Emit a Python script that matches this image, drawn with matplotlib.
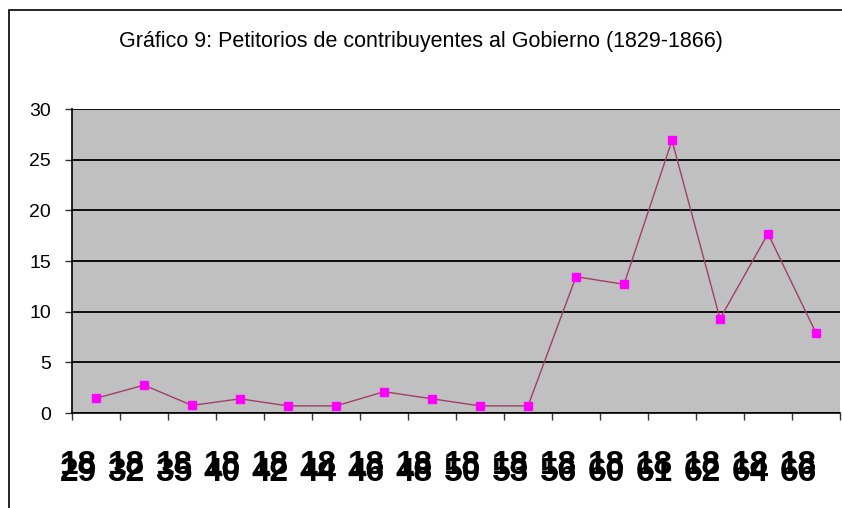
import matplotlib
matplotlib.use('Agg')
import matplotlib.pyplot as plt
import matplotlib.patches as patches

# data
years = ['1829', '1832', '1835', '1840', '1842', '1844', '1846', '1848',
         '1850', '1853', '1856', '1860', '1861', '1862', '1864', '1866']
petitorios = [1.45, 2.75, 0.75, 1.4, 0.7, 0.7, 2.1, 1.4,
              0.7, 0.7, 13.45, 12.7, 26.9, 9.3, 17.7, 7.9]
y_ticks = [0, 5, 10, 15, 20, 25, 30]

plt.rcParams['font.family'] = ['Liberation Sans', 'DejaVu Sans']

fig = plt.figure(figsize=(8.42, 5.08), dpi=100)
fig.patch.set_facecolor('white')

# outer chart border (left/top only visible)
fig.add_artist(patches.Rectangle((9 / 842, -0.01), 1.0, (498 / 508) + 0.01,
                                 transform=fig.transFigure, fill=False,
                                 edgecolor='black', linewidth=1.2))

ax = fig.add_axes([72 / 842, 95 / 508, 768 / 842, 304 / 508])
ax.set_facecolor('#C0C0C0')

x = list(range(len(years)))
ax.plot(x, petitorios, color='#A04068', linewidth=1.0, marker='s',
        markersize=6, markerfacecolor='#FF00FF', markeredgecolor='#FF00FF',
        zorder=3)

ax.set_xlim(-0.5, len(years) - 0.5)
ax.set_ylim(0, 30)
ax.set_yticks(y_ticks)
ax.set_yticklabels([str(v) for v in y_ticks], fontsize=14)
ax.yaxis.grid(True, color='black', linewidth=1.3)
ax.set_axisbelow(True)

ax.set_xticks([i - 0.5 for i in range(len(years) + 1)])
ax.set_xticklabels([])
ax.tick_params(axis='both', direction='out', length=5, width=1, color='#333333')
ax.tick_params(axis='y', pad=10)

for s in ['top', 'right']:
    ax.spines[s].set_visible(False)
ax.spines['left'].set_linewidth(1.2)
ax.spines['bottom'].set_linewidth(1.2)

# garbled overlapping year labels, as in the original export
for i, yr in enumerate(years):
    ax.annotate(yr[:2], xy=(i + 0.02, 0), xycoords=('data', 'axes fraction'),
                xytext=(0, -27), textcoords='offset points', ha='right',
                va='top', fontsize=24, fontweight='bold', annotation_clip=False)
    ax.annotate(yr[2:], xy=(i + 0.02, 0), xycoords=('data', 'axes fraction'),
                xytext=(0, -54), textcoords='offset points', ha='right',
                va='bottom', fontsize=24, fontweight='bold', annotation_clip=False)

fig.text(0.5, 1 - 41 / 508, 'Gráfico 9: Petitorios de contribuyentes al Gobierno (1829-1866)',
         ha='center', va='center', fontsize=15.5)

fig.savefig('out.png', dpi=100)
